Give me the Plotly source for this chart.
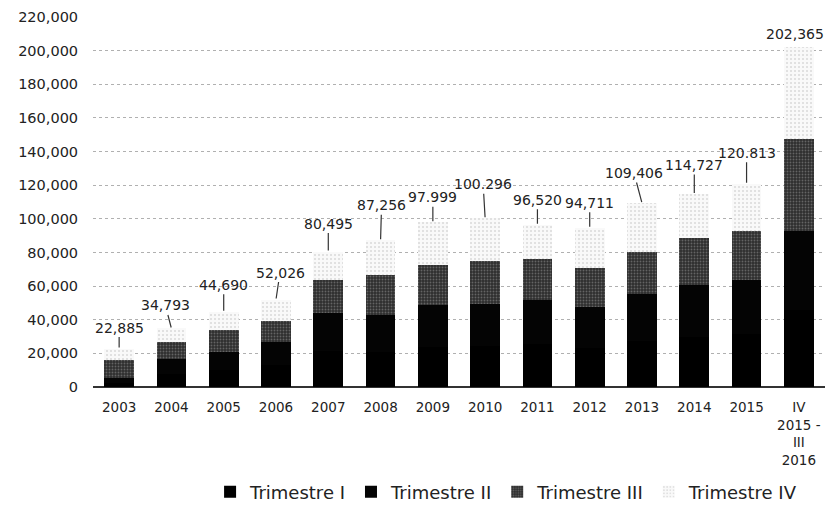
"""
Stacked bars by quarter (Trimestre I-IV), 2003 - IV 2015/III 2016
"""
import plotly.graph_objects as go

# ---------------------------------------------------------------------------
# Data
# ---------------------------------------------------------------------------
years = ['2003', '2004', '2005', '2006', '2007', '2008', '2009', '2010',
         '2011', '2012', '2013', '2014', '2015', 'IV<br>2015 -<br>III<br>2016']

trim_1 = [2600, 8000, 10200, 13000, 21500, 21000, 24000, 24300,
          25500, 23300, 27200, 29800, 31300, 45500]
trim_2 = [2700, 8500, 10800, 13500, 22500, 22000, 25000, 25300,
          26500, 24300, 28300, 31000, 32500, 47300]
trim_3 = [10700, 10000, 12700, 12900, 19700, 23700, 23600, 25400,
          24000, 23400, 24500, 28000, 29000, 54800]
trim_4 = [6885, 8293, 10990, 12626, 16795, 20556, 25399, 25296,
          20520, 23711, 29406, 25927, 28013, 54765]

totals = [22885, 34793, 44690, 52026, 80495, 87256, 97999, 100296,
          96520, 94711, 109406, 114727, 120813, 202365]
total_labels = ['22,885', '34,793', '44,690', '52,026', '80,495', '87,256',
                '97.999', '100.296', '96,520', '94,711', '109,406', '114,727',
                '120.813', '202,365']

y_ticks = list(range(0, 220001, 20000))
y_tick_text = ['0'] + [f'{v:,}' for v in y_ticks[1:]]

# leader-line offsets (pixels) for the total labels
label_offsets = [(0, -21), (-6, -23), (0, -27), (4, -27), (0, -28), (1, -35),
                 (0, -25), (-2, -34), (0, -25), (0, -25), (-8, -30), (0, -29),
                 (0, -31), None]

FONT = 'DejaVu Sans'

fig = go.Figure()
fig.add_trace(go.Bar(x=years, y=trim_1, name='Trimestre I',
                     marker=dict(color='#000000', line=dict(width=0))))
fig.add_trace(go.Bar(x=years, y=trim_2, name='Trimestre II',
                     marker=dict(color='#040404', line=dict(width=0))))
fig.add_trace(go.Bar(x=years, y=trim_3, name='Trimestre III',
                     marker=dict(color='#2e2e2e', line=dict(width=0),
                                 pattern=dict(shape='.', fgcolor='#9a9a9a',
                                              size=3, solidity=0.3))))
fig.add_trace(go.Bar(x=years, y=trim_4, name='Trimestre IV',
                     marker=dict(color='#f9f9f9', line=dict(width=0),
                                 pattern=dict(shape='.', fgcolor='#bdbdbd',
                                              size=4, solidity=0.22))))

# category axis: annotations use the category index
for i, (tot, lab) in enumerate(zip(totals, total_labels)):
    off = label_offsets[i]
    if off is None:
        fig.add_annotation(x=i, y=tot, text=lab, showarrow=False,
                           yanchor='bottom', yshift=3, xshift=-4,
                           font=dict(family=FONT, size=14, color='#222'))
    else:
        fig.add_annotation(x=i, y=tot, text=lab, showarrow=True,
                           arrowhead=0, arrowwidth=1.2, arrowcolor='#333',
                           ax=off[0], ay=off[1], standoff=1,
                           font=dict(family=FONT, size=14, color='#222'))

# page body keeps an 8px margin all round, so keep the figure inside the window
fig.update_layout(
    barmode='stack',
    bargap=0.43,
    width=817, height=503,
    margin=dict(l=85, r=0, t=9, b=122),
    plot_bgcolor='white', paper_bgcolor='white',
    font=dict(family=FONT, color='#222'),
    legend=dict(orientation='h', x=0.565, xanchor='center', y=-0.234,
                yanchor='top', font=dict(family=FONT, size=18, color='#222'),
                traceorder='normal', itemwidth=30),
)
fig.update_xaxes(type='category', range=[-0.5, len(years) - 0.5],
                 showgrid=False, showline=False,
                 ticks='outside', ticklen=8, tickcolor='rgba(0,0,0,0)',
                 tickfont=dict(family=FONT, size=13.5, color='#222'))
fig.update_yaxes(range=[0, 220000], tickvals=y_ticks, ticktext=y_tick_text,
                 showgrid=True, gridcolor='#b0b0b0', griddash='dot', gridwidth=1,
                 zeroline=True, zerolinecolor='#333', zerolinewidth=1.5,
                 ticks='outside', ticklen=11, tickcolor='rgba(0,0,0,0)',
                 tickfont=dict(family=FONT, size=14.5, color='#222'))

fig.write_html("out.html")
